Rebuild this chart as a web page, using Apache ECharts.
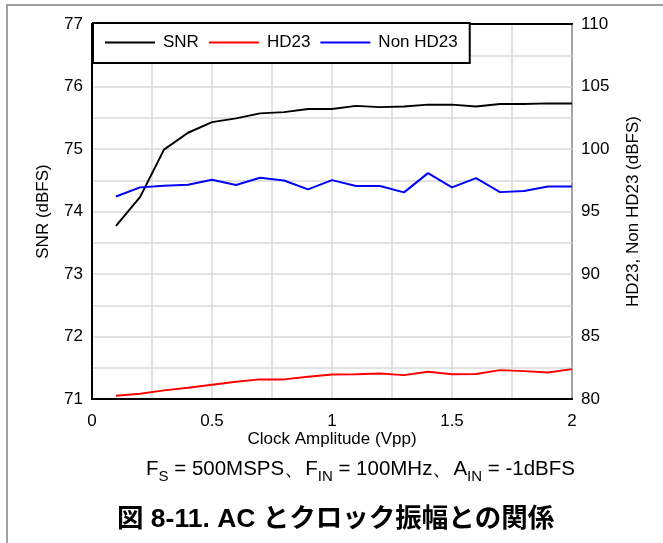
<!DOCTYPE html>
<html>
<head>
<meta charset="utf-8">
<script src="https://cdn.jsdelivr.net/npm/echarts@6/dist/echarts.min.js"></script>
<style>
  html, body { margin: 0; padding: 0; background: #fff; }
  #acChart { width: 663px; height: 543px; }
</style>
</head>
<body>
<div id="acChart"></div>
<script>
// クロック振幅 (Vpp)
var clockAmp = [0.1, 0.2, 0.3, 0.4, 0.5, 0.6, 0.7, 0.8, 0.9, 1.0,
                1.1, 1.2, 1.3, 1.4, 1.5, 1.6, 1.7, 1.8, 1.9, 2.0];
// SNR (dBFS) - 左軸
var snrData = [73.77, 74.23, 74.99, 75.26, 75.43, 75.49, 75.57, 75.59, 75.64, 75.64,
               75.69, 75.67, 75.68, 75.71, 75.71, 75.68, 75.72, 75.72, 75.73, 75.73];
// HD23 (dBFS) - 右軸
var hd23Data = [80.26, 80.42, 80.69, 80.90, 81.14, 81.38, 81.57, 81.57, 81.78, 81.96,
                81.98, 82.04, 81.91, 82.18, 81.98, 82.00, 82.31, 82.23, 82.12, 82.39];
// Non HD23 (dBFS) - 右軸
var nonHd23Data = [96.20, 96.93, 97.06, 97.14, 97.54, 97.12, 97.70, 97.48, 96.77, 97.51,
                   97.04, 97.04, 96.53, 98.07, 96.93, 97.67, 96.55, 96.64, 97.00, 97.00];
var seriesNames = ['SNR', 'HD23', 'Non HD23'];
var seriesColors = ['#000000', '#ff0000', '#0000ff'];

var FONT = '"Liberation Sans", Arial, sans-serif';

function pairs(xs, ys) {
    return xs.map(function (x, i) { return [x, ys[i]]; });
}

var acChart = echarts.init(document.getElementById('acChart'));

var option = {
    animation: false,
    backgroundColor: '#ffffff',
    textStyle: { fontFamily: FONT, color: '#000' },
    grid: {
        left: 92, right: 91, top: 24, bottom: 144,
        show: true, borderColor: '#000', borderWidth: 2
    },
    legend: {
        data: seriesNames,
        left: 93, top: 23,
        orient: 'horizontal',
        icon: 'rect',
        itemWidth: 50, itemHeight: 2, itemGap: 10,
        padding: [11, 12, 12, 12],
        backgroundColor: '#fff',
        borderColor: '#000', borderWidth: 2, borderRadius: 0,
        textStyle: { fontFamily: FONT, fontSize: 17, color: '#000', padding: [0, 0, 0, 3] }
    },
    xAxis: [{
        type: 'value',
        min: 0, max: 2, interval: 0.25,
        name: 'Clock Amplitude (Vpp)',
        nameLocation: 'middle', nameGap: 32, nameMoveOverlap: false,
        nameTextStyle: { fontFamily: FONT, fontSize: 17, color: '#000' },
        axisLine: { show: true, lineStyle: { color: '#000', width: 2 } },
        axisTick: { show: false },
        axisLabel: {
            fontFamily: FONT, fontSize: 17, color: '#000', margin: 14,
            formatter: function (v) {
                return Math.abs(v * 2 - Math.round(v * 2)) < 1e-6 ? String(v) : '';
            }
        },
        splitLine: { show: true, lineStyle: { color: '#d9d9d9', width: 1.5 } }
    }, {
        // 上側の枠線
        type: 'value', position: 'top',
        min: 0, max: 2,
        axisLine: { show: true, lineStyle: { color: '#000', width: 2 } },
        axisTick: { show: false },
        axisLabel: { show: false },
        splitLine: { show: false }
    }],
    yAxis: [{
        type: 'value',
        min: 71, max: 77, interval: 0.5,
        name: 'SNR (dBFS)',
        nameLocation: 'middle', nameGap: 40,
        nameTextStyle: { fontFamily: FONT, fontSize: 17, color: '#000' },
        axisLine: { show: true, lineStyle: { color: '#000', width: 2 } },
        axisTick: { show: false },
        axisLabel: {
            fontFamily: FONT, fontSize: 17, color: '#000', margin: 9,
            formatter: function (v) {
                return Math.abs(v - Math.round(v)) < 1e-6 ? String(v) : '';
            }
        },
        splitLine: { show: true, lineStyle: { color: '#d9d9d9', width: 1.5 } }
    }, {
        type: 'value',
        position: 'right',
        min: 80, max: 110, interval: 2.5,
        name: 'HD23, Non HD23 (dBFS)',
        nameLocation: 'middle', nameGap: 53, nameRotate: 90,
        nameTextStyle: { fontFamily: FONT, fontSize: 17, color: '#000' },
        axisLine: { show: true, lineStyle: { color: '#000', width: 2 } },
        axisTick: { show: false },
        axisLabel: {
            fontFamily: FONT, fontSize: 17, color: '#000', margin: 9,
            formatter: function (v) {
                return Math.abs(v / 5 - Math.round(v / 5)) < 1e-6 ? String(v) : '';
            }
        },
        splitLine: { show: false }
    }],
    series: [{
        name: seriesNames[0], type: 'line', yAxisIndex: 0,
        data: pairs(clockAmp, snrData),
        symbol: 'none', color: seriesColors[0],
        lineStyle: { color: seriesColors[0], width: 2 }
    }, {
        name: seriesNames[1], type: 'line', yAxisIndex: 1,
        data: pairs(clockAmp, hd23Data),
        symbol: 'none', color: seriesColors[1],
        lineStyle: { color: seriesColors[1], width: 2 }
    }, {
        name: seriesNames[2], type: 'line', yAxisIndex: 1,
        data: pairs(clockAmp, nonHd23Data),
        symbol: 'none', color: seriesColors[2],
        lineStyle: { color: seriesColors[2], width: 2 }
    }],
    graphic: [{
        // 外枠 (左・上)
        type: 'polyline', silent: true,
        shape: { points: [[7, 543], [7, 5], [663, 5]] },
        style: { stroke: '#808080', lineWidth: 1.5, fill: null }
    }, {
        type: 'text', left: 146, top: 459, silent: true,
        style: {
            text: '{n|F}{s|S}{n| = 500MSPS、F}{s|IN}{n| = 100MHz、A}{s|IN}{n| = -1dBFS}',
            rich: {
                n: { fontFamily: FONT, fontSize: 20.5, color: '#000', verticalAlign: 'bottom' },
                s: { fontFamily: FONT, fontSize: 15, color: '#000', verticalAlign: 'bottom', padding: [0, 0, -4, 0] }
            }
        }
    }, {
        type: 'text', left: 117, top: 506, silent: true,
        style: {
            text: '図 8-11. AC とクロック振幅との関係',
            fontFamily: '"Liberation Sans", "Noto Sans CJK JP", sans-serif',
            fontWeight: 'bold', fontSize: 26.5, fill: '#000'
        }
    }]
};

acChart.setOption(option);

window.addEventListener('resize', function () {
    acChart.resize();
});
</script>
</body>
</html>
